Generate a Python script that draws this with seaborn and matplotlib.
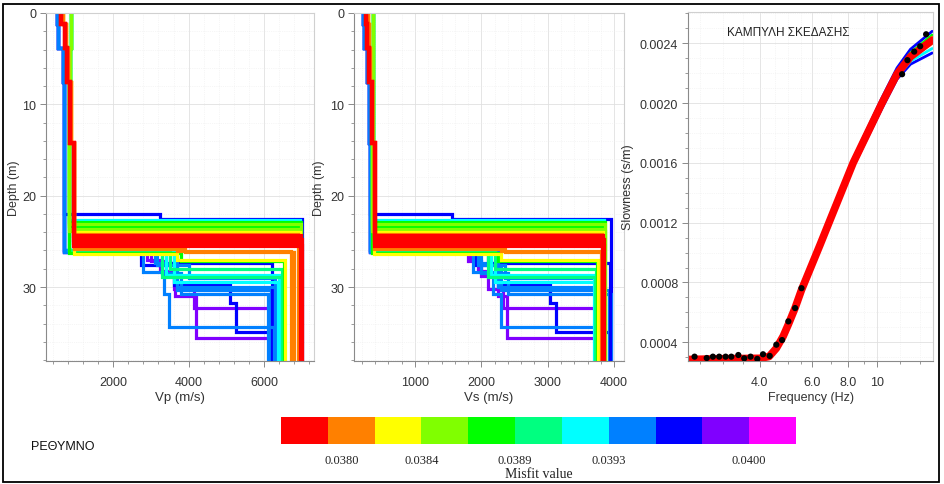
import matplotlib
matplotlib.use("Agg")
import matplotlib.pyplot as plt
import matplotlib.colors as mcolors
from matplotlib.ticker import MultipleLocator, FixedLocator, NullFormatter, NullLocator, LogLocator
from matplotlib.patches import Rectangle
import seaborn as sns

sns.set_theme(style="white")
plt.rcParams["font.family"] = ["Liberation Sans", "DejaVu Sans"]

# ---------------- misfit colour classes ----------------
class_colors = ["#FF0000", "#FF8000", "#FFFF00", "#80FF00", "#00FF00", "#00FF80",
                "#00FFFF", "#0080FF", "#0000FF", "#8000FF", "#FF00FF"]
misfit_edges = [0.03772, 0.03794, 0.03814, 0.03840, 0.03865, 0.03890,
                0.03910, 0.03930, 0.03953, 0.03977, 0.04000, 0.04020]
cbar_ticks = [0.0380, 0.0384, 0.0389, 0.0393, 0.0400]
cbar_labels = ["0.0380", "0.0384", "0.0389", "0.0393", "0.0400"]

# ---------------- ground models (shallow part) ----------------
shallow_top = [0.0, 1.2, 3.8, 7.6, 14.2]
shallow_vp = {
    "red":   [630, 715, 780, 860, 975],
    "warm":  [680, 740, 800, 870, 950],
    "green": [880, 870, 850, 835, 830],
    "blue":  [510, 540, 680, 690, 700],
}
shallow_vs = {
    "red":   [260, 280, 310, 350, 395],
    "warm":  [290, 300, 320, 350, 380],
    "green": [370, 370, 365, 360, 355],
    "blue":  [210, 230, 270, 300, 320],
}

# ---------------- ground models (deep part), worst misfit first ----------------
model_misfit = [0.0399, 0.0398, 0.0396, 0.0396, 0.0395, 0.0395, 0.0396,
                0.0394, 0.0394, 0.0393, 0.0392, 0.0392, 0.0391, 0.0390, 0.0390,
                0.0388, 0.0388, 0.0387, 0.0386, 0.0385, 0.0385, 0.0383, 0.0383,
                0.0381, 0.0381, 0.0380, 0.0379, 0.0379, 0.0379, 0.0379]
model_shallow = ["blue", "blue", "blue", "blue", "blue", "blue", "blue",
                 "blue", "blue", "blue", "green", "green", "green", "green", "green",
                 "green", "green", "green", "green", "green", "green", "warm", "warm",
                 "warm", "warm", "warm", "red", "red", "red", "red"]
deep_top = [[26.2, 27.0, 28.2, 30.2, 32.3],
            [26.2, 27.2, 28.8, 31.0, 35.6],
            [22.0, 22.6],
            [26.2, 27.6, 29.8, 31.8, 34.9],
            [26.0, 27.4, 30.3],
            [25.9, 28.5, 30.8],
            [26.1, 27.4],
            [26.2, 28.4, 30.8, 34.4],
            [26.0, 27.6, 29.0],
            [26.1, 30.0],
            [26.0, 28.7],
            [26.1, 29.4],
            [22.7],
            [26.0, 28.0],
            [25.9, 28.9],
            [22.9],
            [23.3],
            [26.3, 27.2],
            [23.1],
            [23.6],
            [23.85],
            [24.0],
            [26.4, 27.0],
            [24.2],
            [25.7, 26.1],
            [25.8, 26.2],
            [24.4], [24.8], [25.15], [25.5]]
deep_vp = [[2900, 3250, 3600, 4150, 6120],
           [3000, 3400, 3650, 4200, 6130],
           [3250, 7000],
           [2750, 3600, 5100, 5250, 6150],
           [3100, 3700, 6180],
           [3300, 3800, 6100],
           [3500, 6200],
           [2800, 3350, 3480, 6250],
           [3150, 4000, 6300],
           [3700, 6280],
           [3400, 6380],
           [3600, 6360],
           [6950],
           [3500, 6480],
           [3300, 6460],
           [6980],
           [6960],
           [3800, 6520],
           [6970],
           [6960],
           [6980],
           [6950],
           [3700, 6560],
           [6900],
           [3700, 6720],
           [3900, 6800],
           [6980], [6990], [6970], [6990]]
deep_vs = [[1850, 1950, 2100, 2330, 3740],
           [1800, 2000, 2250, 2380, 3750],
           [1550, 3960],
           [1900, 2250, 3030, 3130, 3940],
           [1950, 2300, 3930],
           [2000, 2400, 3950],
           [2100, 3940],
           [1880, 2180, 2290, 3720],
           [1950, 2350, 3710],
           [2250, 3720],
           [2150, 3700],
           [2200, 3710],
           [3850],
           [2200, 3730],
           [2100, 3720],
           [3860],
           [3850],
           [2250, 3740],
           [3860],
           [3850],
           [3860],
           [3840],
           [2300, 3760],
           [3820],
           [2300, 3800],
           [2350, 3820],
           [3840], [3850], [3830], [3845]]

# ---------------- dispersion curves ----------------
disp_freq = [2.28, 3.0, 4.0, 4.3, 4.55, 4.8, 5.0, 5.27, 5.54, 6.4, 7.0, 8.3, 10.4, 11.7, 13.0, 15.4]
curve_misfit = [0.0397, 0.0396, 0.0392, 0.0388, 0.0383, 0.0381, 0.0379]
curve_slow = [
    [0.000285, 0.000290, 0.000293, 0.000305, 0.000352, 0.000430, 0.000510, 0.000620, 0.000740, 0.001030, 0.001220, 0.001575, 0.001965, 0.002160, 0.002260, 0.002335],
    [0.000285, 0.000290, 0.000293, 0.000306, 0.000365, 0.000450, 0.000530, 0.000640, 0.000765, 0.001070, 0.001262, 0.001625, 0.002035, 0.002235, 0.002360, 0.002480],
    [0.000285, 0.000290, 0.000293, 0.000305, 0.000355, 0.000435, 0.000515, 0.000625, 0.000745, 0.001040, 0.001230, 0.001588, 0.001980, 0.002175, 0.002280, 0.002365],
    [0.000285, 0.000290, 0.000293, 0.000306, 0.000362, 0.000445, 0.000525, 0.000635, 0.000758, 0.001060, 0.001252, 0.001612, 0.002020, 0.002215, 0.002335, 0.002455],
    [0.000285, 0.000290, 0.000293, 0.000305, 0.000358, 0.000438, 0.000518, 0.000628, 0.000748, 0.001045, 0.001236, 0.001594, 0.001990, 0.002185, 0.002295, 0.002400],
    [0.000285, 0.000290, 0.000293, 0.000305, 0.000360, 0.000440, 0.000522, 0.000632, 0.000752, 0.001052, 0.001244, 0.001605, 0.002005, 0.002200, 0.002320, 0.002440],
    [0.000285, 0.000290, 0.000293, 0.000305, 0.000360, 0.000440, 0.000520, 0.000630, 0.000750, 0.001050, 0.001240, 0.001600, 0.002000, 0.002195, 0.002310, 0.002420],
]
obs_freq = [2.40, 2.64, 2.77, 2.91, 3.06, 3.20, 3.38, 3.54, 3.72, 3.92, 4.10, 4.32,
            4.55, 4.76, 5.00, 5.27, 5.54, 12.17, 12.69, 13.38, 14.02, 14.69]
obs_slow = [0.000304, 0.000295, 0.000304, 0.000304, 0.000304, 0.000304, 0.000315,
            0.000293, 0.000304, 0.000289, 0.000320, 0.000309, 0.000384, 0.000415,
            0.000540, 0.000629, 0.000762, 0.002193, 0.002287, 0.002344, 0.002380, 0.002460]

cmap = mcolors.ListedColormap(class_colors)
norm = mcolors.BoundaryNorm(misfit_edges, cmap.N)

W, H = 944, 485
fig = plt.figure(figsize=(W / 100, H / 100), dpi=100)
fig.patch.set_facecolor("white")

ax1 = fig.add_axes([46 / W, 1 - 362 / H, 268 / W, 348 / H])
ax2 = fig.add_axes([354 / W, 1 - 362 / H, 270 / W, 348 / H])
ax3 = fig.add_axes([688 / W, 1 - 362 / H, 245 / W, 349 / H])


def step_profile(tops, vels, zmax=40.0):
    xs, ys = [], []
    for i, v in enumerate(vels):
        z0 = tops[i]
        z1 = tops[i + 1] if i + 1 < len(tops) else zmax
        xs += [v, v]
        ys += [z0, z1]
    return xs, ys


for i, mf in enumerate(model_misfit):
    col = cmap(norm(mf))
    lw = 3.0 if mf < 0.03794 else 2.3
    key = model_shallow[i]
    tops = shallow_top + deep_top[i]
    xp, yp = step_profile(tops, shallow_vp[key] + deep_vp[i])
    xs, ys = step_profile(tops, shallow_vs[key] + deep_vs[i])
    sns.lineplot(x=xp, y=yp, sort=False, estimator=None, color=col, lw=lw, ax=ax1,
                 solid_joinstyle="miter")
    sns.lineplot(x=xs, y=ys, sort=False, estimator=None, color=col, lw=lw, ax=ax2,
                 solid_joinstyle="miter")

for mf, sl in zip(curve_misfit, curve_slow):
    lw = 5.5 if mf < 0.03794 else 2.0
    sns.lineplot(x=disp_freq, y=sl, sort=False, estimator=None, color=cmap(norm(mf)),
                 lw=lw, ax=ax3)
sns.scatterplot(x=obs_freq, y=obs_slow, color="black", s=20, edgecolor="none", ax=ax3, zorder=5)

# ---------------- axes styling ----------------
tick_col = "#333333"
for ax in (ax1, ax2, ax3):
    ax.set_facecolor("white")
    ax.set_axisbelow(True)
    ax.grid(True, which="major", color="#e0e0e0", lw=0.6)
    ax.grid(True, which="minor", color="#ededed", lw=0.5, ls=":")
    for s in ("top", "right"):
        ax.spines[s].set_color("#d0d0d0")
        ax.spines[s].set_linewidth(0.8)
    for s in ("left", "bottom"):
        ax.spines[s].set_color("#8a8a8a")
        ax.spines[s].set_linewidth(0.8)
    ax.tick_params(which="both", direction="out", colors="#8a8a8a", labelcolor=tick_col,
                   labelsize=9, left=True, bottom=True)
    ax.tick_params(which="major", length=4, width=0.7)
    ax.tick_params(which="minor", length=2.5, width=0.6)
    ax.tick_params(axis="x", pad=7)
    ax.tick_params(axis="y", pad=3)

for ax in (ax1, ax2):
    ax.set_ylim(38.1, 0)
    ax.yaxis.set_major_locator(FixedLocator([0, 10, 20, 30]))
    ax.yaxis.set_minor_locator(MultipleLocator(2))

ax1.set_ylabel("Depth (m)", fontsize=9, color=tick_col, labelpad=2)
ax2.set_ylabel("Depth (m)", fontsize=9, color=tick_col, labelpad=4)

ax1.set_xlim(220, 7320)
ax1.xaxis.set_major_locator(FixedLocator([2000, 4000, 6000]))
ax1.xaxis.set_minor_locator(MultipleLocator(400))
ax1.set_xlabel("Vp (m/s)", fontsize=9.5, color=tick_col, labelpad=2)

ax2.set_xlim(80, 4150)
ax2.xaxis.set_major_locator(FixedLocator([1000, 2000, 3000, 4000]))
ax2.xaxis.set_minor_locator(MultipleLocator(200))
ax2.set_xlabel("Vs (m/s)", fontsize=9.5, color=tick_col, labelpad=2)

ax3.set_xscale("log")
ax3.set_xlim(2.28, 15.5)
ax3.set_ylim(0.000275, 0.002609)
ax3.xaxis.set_major_locator(FixedLocator([4, 6, 8, 10]))
ax3.set_xticklabels(["4.0", "6.0", "8.0", "10"])
ax3.xaxis.set_minor_locator(LogLocator(base=10, subs=(2.5, 3, 3.5, 4.5, 5, 5.5, 7, 9, 1.2, 1.4), numticks=20))
ax3.xaxis.set_minor_formatter(NullFormatter())
yt = [0.0004, 0.0008, 0.0012, 0.0016, 0.0020, 0.0024]
ax3.yaxis.set_major_locator(FixedLocator(yt))
ax3.set_yticklabels([f"{v:.4f}" for v in yt])
ax3.yaxis.set_minor_locator(MultipleLocator(0.0001))
ax3.set_xlabel("Frequency (Hz)", fontsize=9, color=tick_col, labelpad=2)
ax3.set_ylabel("Slowness (s/m)", fontsize=9, color=tick_col, labelpad=4)
ax3.text(0.41, 0.943, "ΚΑΜΠΥΛΗ ΣΚΕΔΑΣΗΣ", transform=ax3.transAxes, ha="center", va="center",
         fontsize=8.5, color="#222222")

# ---------------- colour bar ----------------
cax = fig.add_axes([281 / W, 1 - 445 / H, 515 / W, 27 / H])
sm = plt.cm.ScalarMappable(norm=norm, cmap=cmap)
cb = fig.colorbar(sm, cax=cax, orientation="horizontal", spacing="uniform")
cb.outline.set_visible(False)
cb.set_ticks(cbar_ticks)
cb.set_ticklabels(cbar_labels)
cax.xaxis.set_minor_locator(NullLocator())
cax.tick_params(which="both", length=0, pad=7, labelsize=9, labelcolor="#222222")
for lab in cax.get_xticklabels():
    lab.set_fontfamily(["Liberation Serif", "DejaVu Serif"])
cb.set_label("Misfit value", fontsize=10, family=["Liberation Serif", "DejaVu Serif"],
             color="#222222", labelpad=1)

fig.text(63 / W, 1 - 447 / H, "ΡΕΘΥΜΝΟ", ha="center", va="center", fontsize=9, color="#111111")

fig.patches.append(Rectangle((3 / W, 1 - 483 / H), 936 / W, 478 / H, transform=fig.transFigure,
                             fill=False, edgecolor="black", lw=1.3))

fig.savefig("out.png", dpi=100, facecolor="white")
